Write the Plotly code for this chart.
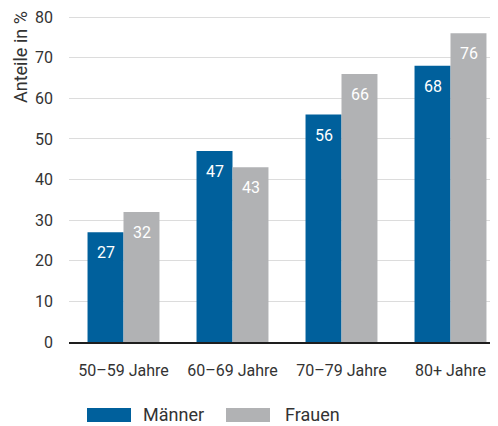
import plotly.graph_objects as go

# Daten
altersgruppen = ['50–59 Jahre', '60–69 Jahre', '70–79 Jahre', '80+ Jahre']
maenner = [27, 47, 56, 68]
frauen = [32, 43, 66, 76]
serien = ['Männer', 'Frauen']
farben = ['#00609c', '#b1b2b4']

# Seite hat 8px Rand im Browser
RAND = 8
W, H = 498 - RAND, 426 - RAND
M_L, M_R, M_T, M_B = 69 - RAND, 0, 5, 426 - 342
plot_w = W - M_L - M_R
plot_h = H - M_T - M_B


def px_x(px):
    return (px - RAND - M_L) / plot_w


def px_y(py):
    return (H - M_B - (py - RAND)) / plot_h


fig = go.Figure()

for nome, werte, farbe in zip(serien, [maenner, frauen], farben):
    fig.add_trace(go.Bar(
        name=nome,
        x=altersgruppen,
        y=werte,
        marker=dict(color=farbe, line=dict(width=0)),
        hoverinfo='skip'
    ))

# Werte in den Balken
anmerkungen = []
for verschiebung, werte in zip([-18, 18], [maenner, frauen]):
    for kat, wert in zip(altersgruppen, werte):
        anmerkungen.append(dict(
            x=kat, y=wert, xref='x', yref='y',
            text=str(wert), showarrow=False,
            xshift=verschiebung, yshift=-9,
            yanchor='top', xanchor='center',
            font=dict(size=16, color='white', family='Roboto')
        ))

# Achsentitel oben links
anmerkungen.append(dict(
    x=px_x(20), y=px_y(9), xref='paper', yref='paper',
    text='Anteile in %', textangle=-90, showarrow=False,
    xanchor='center', yanchor='top',
    font=dict(size=18, color='#333333', family='Roboto')
))

# Legende von Hand
legende_x = [(87, 131, 141), (226, 270, 283)]
formen = []
for (x0, x1, xt), nome, farbe in zip(legende_x, serien, farben):
    formen.append(dict(
        type='rect', xref='paper', yref='paper',
        x0=px_x(x0), x1=px_x(x1), y0=px_y(422), y1=px_y(408),
        fillcolor=farbe, line=dict(width=0)
    ))
    anmerkungen.append(dict(
        x=px_x(xt), y=px_y(415), xref='paper', yref='paper',
        text=nome, showarrow=False, xanchor='left', yanchor='middle',
        font=dict(size=18, color='#333333', family='Roboto')
    ))

fig.update_layout(
    width=W, height=H,
    margin=dict(l=M_L, r=M_R, t=M_T, b=M_B),
    barmode='group',
    bargap=0.34,
    bargroupgap=0,
    showlegend=False,
    plot_bgcolor='white',
    paper_bgcolor='white',
    font=dict(family='Roboto', size=16, color='#333333'),
    annotations=anmerkungen,
    shapes=formen,
    xaxis=dict(
        range=[-0.5, -0.5 + plot_w / 109],
        showgrid=False,
        showline=True, linewidth=2, linecolor='#1e1e1e',
        ticks='', ticklabelstandoff=13,
        tickfont=dict(size=16, color='#333333')
    ),
    yaxis=dict(
        range=[0, 81],
        tickvals=[0, 10, 20, 30, 40, 50, 60, 70, 80],
        showgrid=True, gridcolor='#dcdcdc', gridwidth=1,
        zeroline=False,
        ticks='', ticklabelstandoff=15,
        ticklabeloverflow='allow',
        tickfont=dict(size=16, color='#333333')
    )
)

fig.write_html('out.html')
